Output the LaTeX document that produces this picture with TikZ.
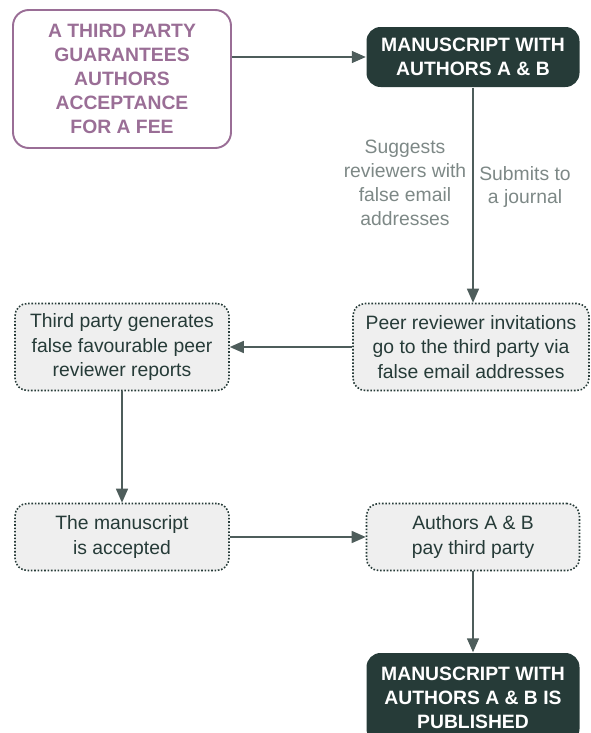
\documentclass[tikz,border=0pt]{standalone}
\usepackage{fontspec}
\setsansfont{Liberation Sans}
\usetikzlibrary{arrows.meta, positioning}
\definecolor{cdark}{HTML}{263B38}
\definecolor{cpurple}{HTML}{9A6E96}
\definecolor{cline}{HTML}{4E5D5B}
\definecolor{clabel}{HTML}{7D8886}
\definecolor{cfill}{HTML}{EFEFEF}
\tikzset{
  every picture/.style={font=\sffamily, line width=0.8pt},
  darkbox/.style={fill=cdark, text=white, rounded corners=8pt, align=center, font=\sffamily\bfseries\fontsize{11}{13.6}\selectfont, minimum width=4.26cm},
  feebox/.style={draw=cpurple, text=cpurple, line width=1.1pt, rounded corners=9pt, align=center, font=\sffamily\bfseries\fontsize{11}{13.6}\selectfont, minimum width=4.36cm, minimum height=2.76cm},
  stepbox/.style={draw=cdark, densely dotted, line width=0.9pt, fill=cfill, text=cdark, rounded corners=7pt, align=center, font=\sffamily\fontsize{11}{13.8}\selectfont},
  arrow/.style={-{Triangle[length=2.8mm, width=2.4mm]}, draw=cline, line width=0.8pt},
  note/.style={font=\sffamily\fontsize{11}{13.6}\selectfont, text=clabel, align=center},
}
\begin{document}
\begin{tikzpicture}
  \useasboundingbox (0,0) rectangle (11.8,-14.66);
  \node[feebox] (fee) at (2.44,-1.58) {A THIRD PARTY\\GUARANTEES\\AUTHORS\\ACCEPTANCE\\FOR A FEE};
  \node[darkbox, minimum height=1.2cm] (ms) at (9.46,-1.14) {MANUSCRIPT WITH\\AUTHORS A \& B};
  \node[stepbox, minimum width=4.72cm, minimum height=1.74cm] (invite) at (9.42,-6.94) {Peer reviewer invitations\\go to the third party via\\false email addresses};
  \node[stepbox, minimum width=4.28cm, minimum height=1.74cm] (reports) at (2.44,-6.94) {Third party generates\\false favourable peer\\reviewer reports};
  \node[stepbox, minimum width=4.28cm, minimum height=1.34cm] (accept) at (2.44,-10.74) {The manuscript\\is accepted};
  \node[stepbox, minimum width=4.26cm, minimum height=1.34cm] (pay) at (9.46,-10.74) {Authors A \& B\\pay third party};
  \node[darkbox, minimum height=1.8cm] (pub) at (9.46,-13.96) {MANUSCRIPT WITH\\AUTHORS A \& B IS\\PUBLISHED};
  % connectors
  \draw[arrow] (fee.east |- ms) -- (ms);
  \draw[arrow] (ms) -- (ms |- invite.north);
  \draw[arrow] (invite) -- (reports);
  \draw[arrow] (reports) -- (accept);
  \draw[arrow] (accept) -- (pay);
  \draw[arrow] (pay) -- (pub);
  \node[note] (suggests) at (8.1,-3.66) {Suggests\\reviewers with\\false email\\addresses};
  \node[note] (submits) at (10.5,-3.74) {Submits to\\a journal};
\end{tikzpicture}
\end{document}
